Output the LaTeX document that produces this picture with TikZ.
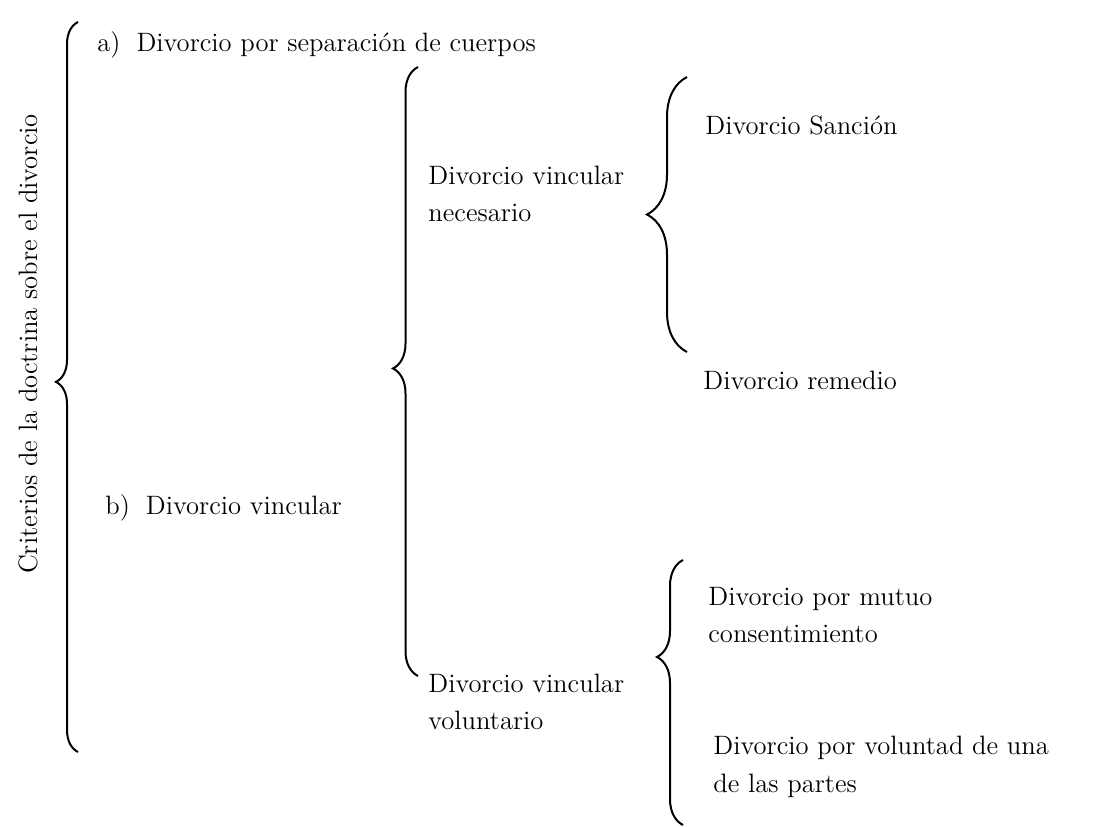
\documentclass[tikz,border=0pt]{standalone}
\usepackage{tikz}
\usetikzlibrary{positioning,decorations.pathreplacing}

\begin{document}
\begin{tikzpicture}[
    x=0.5pt, y=-0.5pt,
    item/.style={anchor=west, inner sep=0pt, align=left, font=\fontsize{13.3}{18.8}\selectfont},
    title/.style={inner sep=0pt, rotate=90, font=\fontsize{13.3}{18.8}\selectfont},
    curly/.style={draw, line width=1pt, decorate, decoration={brace, amplitude=#1}},
]
\useasboundingbox (0,0) rectangle (1093,826);

% Level 0: title
\node[title] (criterios) at (28,344) {Criterios de la doctrina sobre el divorcio};

% Level 1: two criteria
\node[item] (separacion) at (97,45) {a)\hspace{0.6em}Divorcio por separación de cuerpos};
\node[item] (vincular) at (105,508) {b)\hspace{0.6em}Divorcio vincular};

% Level 2: kinds of vincular divorce
\node[item] (necesario) at (428,194) {Divorcio vincular\\necesario};
\node[item] (voluntario) at (428,702) {Divorcio vincular\\voluntario};

% Level 3: leaves
\node[item] (sancion) at (705,125) {Divorcio Sanción};
\node[item] (remedio) at (703,380) {Divorcio remedio};
\node[item] (mutuo) at (708,615) {Divorcio por mutuo\\consentimiento};
\node[item] (unaparte) at (713,767) {Divorcio por voluntad de una\\de las partes};

% Brace end points
\coordinate (b1s) at (78,752);  \coordinate (b1e) at (78,22);
\coordinate (b2s) at (418,676); \coordinate (b2e) at (418,67);
\coordinate (b3s) at (687,352); \coordinate (b3e) at (687,77);
\coordinate (b4s) at (683,825); \coordinate (b4e) at (683,560);

% Braces
\draw[curly=11pt, decoration={aspect=0.507}] (b1s) -- (b1e);
\draw[curly=12.5pt, decoration={aspect=0.505}] (b2s) -- (b2e);
\draw[curly=20pt, decoration={aspect=0.50}] (b3s) -- (b3e);
\draw[curly=13pt, decoration={aspect=0.634}] (b4s) -- (b4e);

\end{tikzpicture}
\end{document}
